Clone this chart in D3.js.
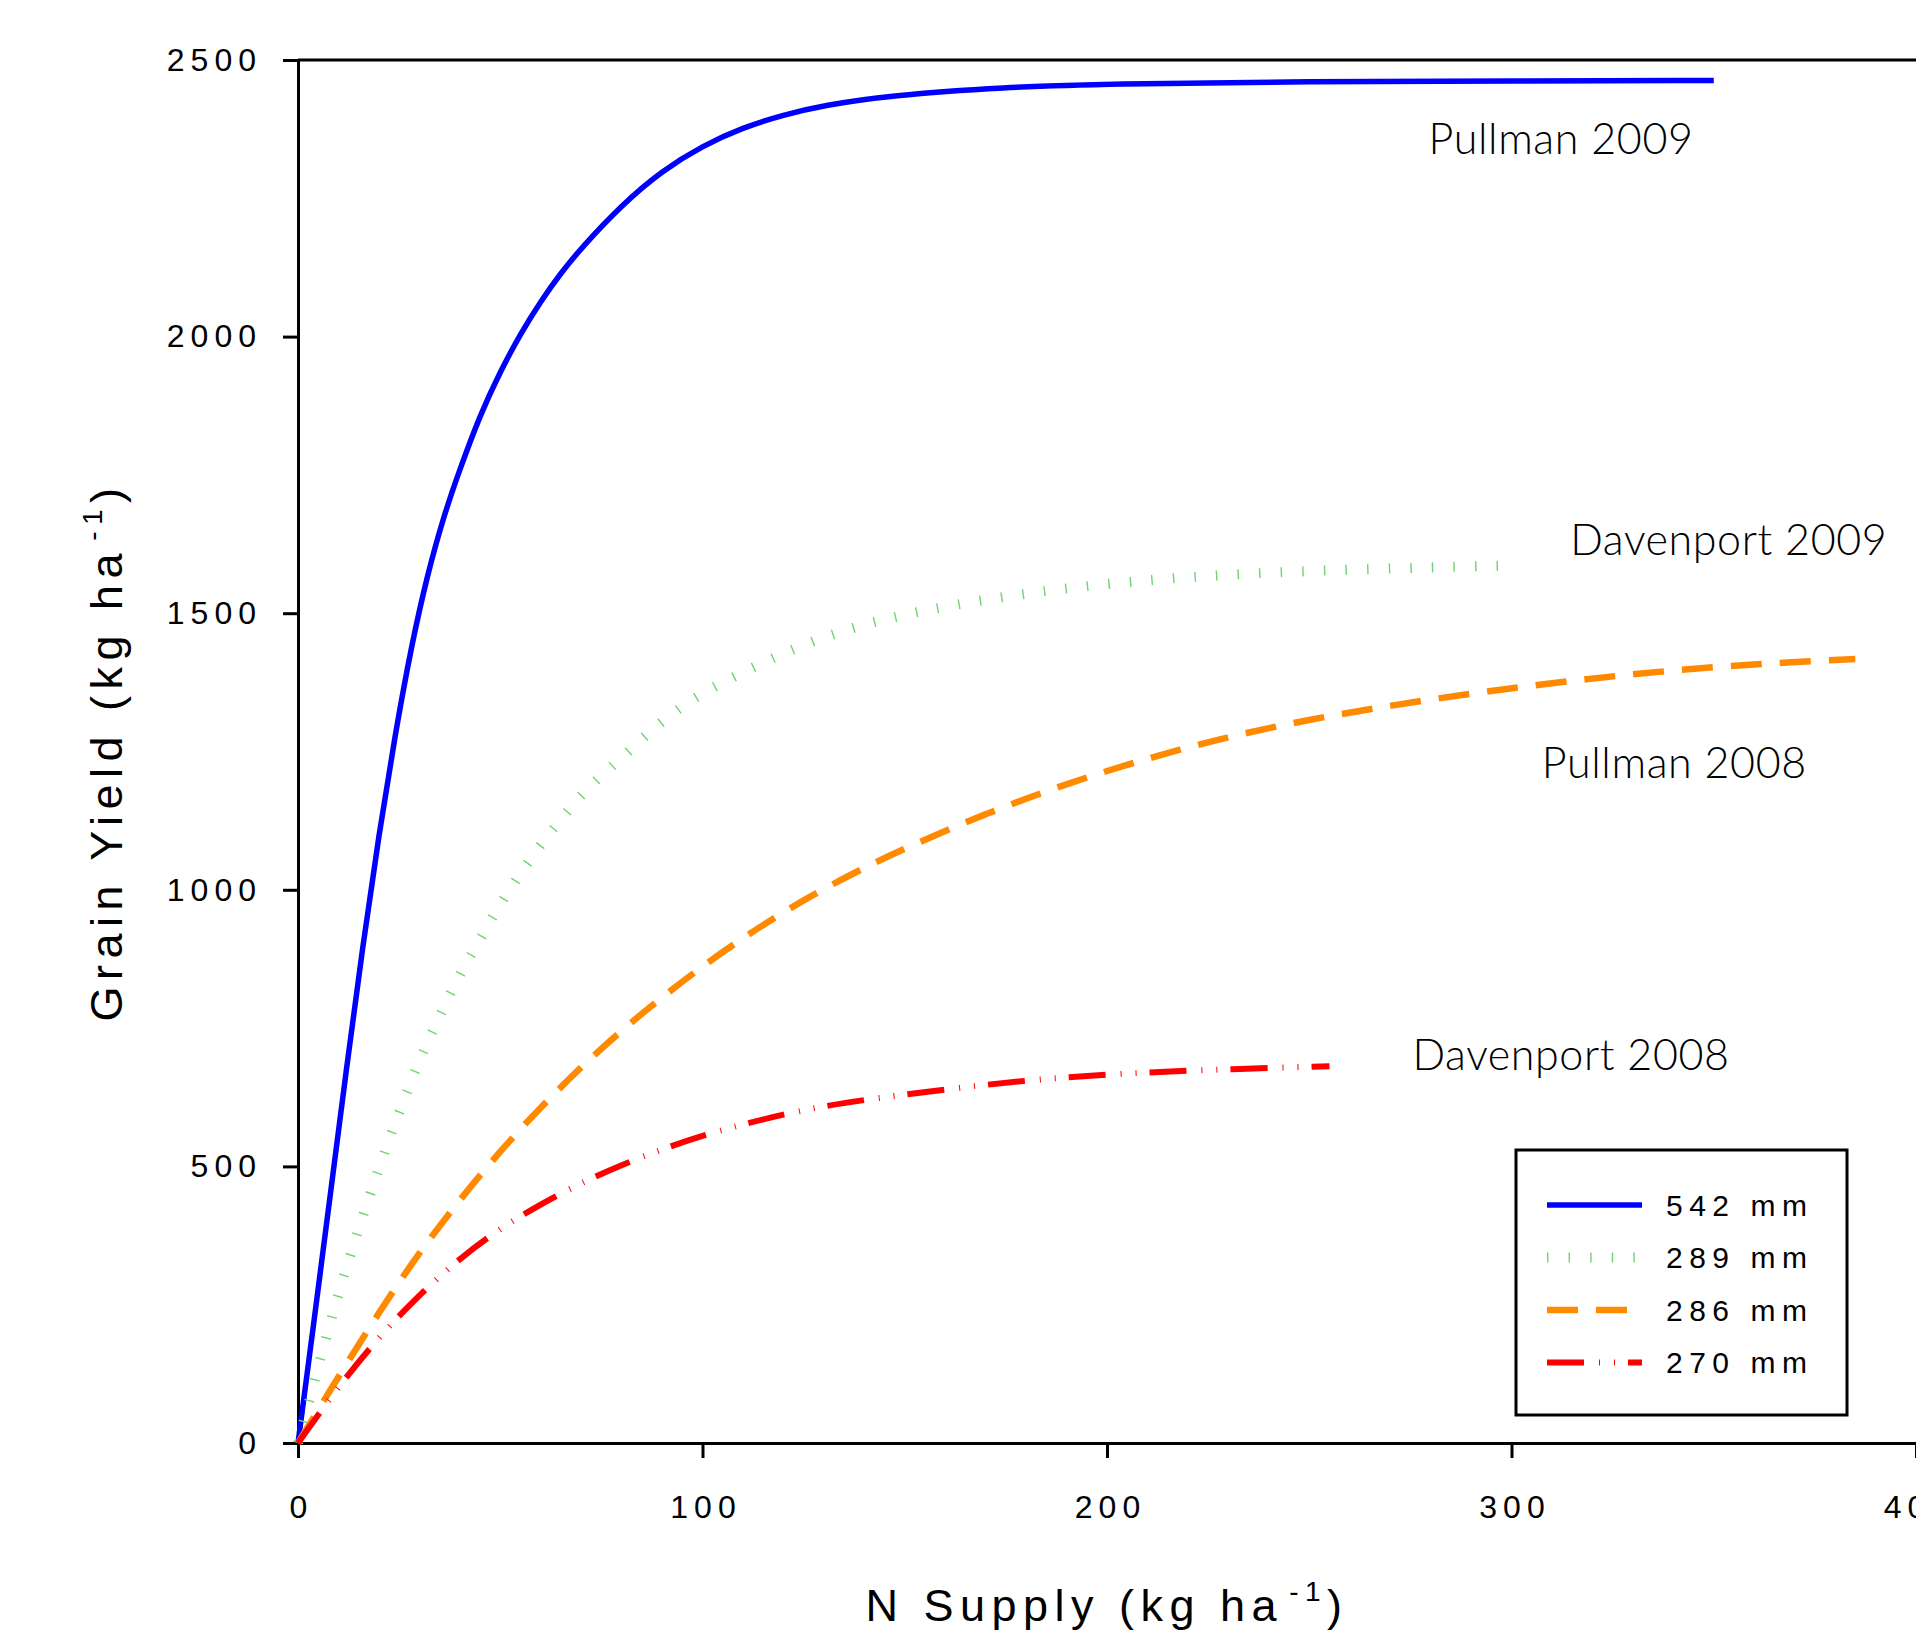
<!DOCTYPE html>
<html>
<head>
<meta charset="utf-8">
<script src="https://cdn.jsdelivr.net/npm/d3@7"></script>
<style>
  body { margin: 0; background: #fff; }
  svg { display: block; }
  .axis path, .axis line { stroke: #000; stroke-width: 3px; }
  .axis text { font-family: "Liberation Sans", Arial, sans-serif; font-size: 32px; letter-spacing: 6px; fill: #000; }
  .title { font-family: "Liberation Sans", Arial, sans-serif; font-size: 45px; letter-spacing: 6.5px; fill: #000; }
  .site-label { font-family: Lato, "DejaVu Sans", sans-serif; font-size: 43px; font-weight: 300; letter-spacing: 0.6px; fill: #000; }
  .legend text { font-family: "Liberation Sans", Arial, sans-serif; font-size: 30px; letter-spacing: 6.5px; fill: #000; }
</style>
</head>
<body>
<div id="chart-area"></div>
<script>
// N supply (kg/ha) and grain yield (kg/ha)
const pullman09N = [0, 4, 8, 12, 16, 20, 24, 28, 32, 36, 40, 45, 50, 55, 60, 65, 70, 80, 90, 100, 110, 120, 130, 146, 175, 200, 250, 300, 350]
const pullman09Y = [0, 222, 450, 678, 898, 1100, 1280, 1440, 1570, 1675, 1760, 1858, 1937, 2005, 2064, 2115, 2160, 2238, 2300, 2345, 2378, 2401, 2418, 2436, 2451, 2457, 2461, 2462, 2463]

const davenport09N = [0, 5, 10, 15, 20, 25, 30, 35, 40, 45, 50, 55, 60, 66, 72, 80, 90, 100, 110, 120, 130, 146, 178, 211, 243, 275, 298]
const davenport09Y = [0, 138, 272, 388, 498, 598, 693, 772, 848, 910, 975, 1030, 1082, 1137, 1188, 1238, 1307, 1357, 1393, 1428, 1457, 1494, 1536, 1562, 1575, 1582, 1586]

const pullman08N = [0, 10, 20, 30, 40, 50, 60, 70, 80, 90, 100, 110, 120, 130, 140, 150, 170, 190, 210, 230, 250, 270, 290, 310, 330, 350, 370, 385]
const pullman08Y = [0, 120, 236, 345, 440, 528, 607, 680, 746, 806, 862, 913, 960, 1002, 1040, 1075, 1138, 1192, 1238, 1277, 1308, 1333, 1355, 1374, 1390, 1403, 1412, 1417]

const davenport08N = [0, 10, 20, 30, 40, 50, 60, 70, 80, 90, 100, 110, 120, 130, 140, 150, 170, 190, 210, 230, 255]
const davenport08Y = [0, 102, 192, 268, 334, 388, 432, 470, 503, 531, 556, 576, 594, 609, 620, 630, 648, 662, 670, 676, 681]

const legendLabels = ["542 mm", "289 mm", "286 mm", "270 mm"]
const siteNames = ["Pullman 2009", "Davenport 2009", "Pullman 2008", "Davenport 2008"]
// where the site names sit, in data units
const siteLabelN = [279.5, 314.5, 307.5, 275.5]
const siteLabelY = [2330, 1605, 1202, 674]

const xTicks = [0, 100, 200, 300, 400]
const yTicks = [0, 500, 1000, 1500, 2000, 2500]

const MARGIN = { left: 298, right: 0, top: 60, bottom: 189 }
const SVG_WIDTH = 1916
const SVG_HEIGHT = 1632

const G_WIDTH = SVG_WIDTH - MARGIN.left - MARGIN.right
const G_HEIGHT = SVG_HEIGHT - MARGIN.top - MARGIN.bottom

const svg = d3.select("#chart-area").append("svg")
  .attr("width", SVG_WIDTH)
  .attr("height", SVG_HEIGHT)

const g = svg.append("g")
  .attr("transform", `translate(${MARGIN.left}, ${MARGIN.top})`)

const x = d3.scaleLinear()
  .domain([0, 400])
  .range([0, G_WIDTH])

const y = d3.scaleLinear()
  .domain([0, 2500])
  .range([G_HEIGHT, 0])

// styles per series (same order as the legend)
const styles = [
  { color: "#0000ff", width: 5.5, dash: null },
  { color: "#6fd36f", width: 10, dash: "1.4,20.2" },
  { color: "#ff8a00", width: 6.5, dash: "31,18" },
  { color: "#ff0000", width: 6, dash: "37,15,1,14,1,13" }
]

const series = [
  { n: pullman09N, yld: pullman09Y },
  { n: davenport09N, yld: davenport09Y },
  { n: pullman08N, yld: pullman08Y },
  { n: davenport08N, yld: davenport08Y }
].map((s, i) => ({
  label: legendLabels[i],
  style: styles[i],
  points: s.n.map((v, j) => [v, s.yld[j]])
}))

// axes
const xAxisCall = d3.axisBottom(x)
  .tickValues(xTicks)
  .tickFormat(d3.format("d"))
  .tickSize(15)
  .tickSizeOuter(0)
  .tickPadding(37)

g.append("g")
  .attr("class", "x axis")
  .attr("transform", `translate(0, ${G_HEIGHT})`)
  .call(xAxisCall)
  .selectAll("text").attr("dx", "3px")

const yAxisCall = d3.axisLeft(y)
  .tickValues(yTicks)
  .tickFormat(d3.format("d"))
  .tickSize(15)
  .tickSizeOuter(0)
  .tickPadding(21)

g.append("g")
  .attr("class", "y axis")
  .call(yAxisCall)

// top frame line
g.append("line")
  .attr("x1", x(0))
  .attr("x2", x(400))
  .attr("y1", y(2500))
  .attr("y2", y(2500))
  .attr("stroke", "#000")
  .attr("stroke-width", 3)

const line = d3.line()
  .x(d => x(d[0]))
  .y(d => y(d[1]))
  .curve(d3.curveBasis)

g.selectAll("path.curve").data(series)
  .enter().append("path")
  .attr("class", "curve")
  .attr("fill", "none")
  .attr("stroke", d => d.style.color)
  .attr("stroke-width", d => d.style.width)
  .attr("stroke-dasharray", d => d.style.dash)
  .attr("d", d => line(d.points))

// site names
g.selectAll("text.site-label").data(siteNames)
  .enter().append("text")
  .attr("class", "site-label")
  .attr("x", (d, i) => x(siteLabelN[i]))
  .attr("y", (d, i) => y(siteLabelY[i]))
  .text(d => d)

// axis titles
const xLabel = g.append("text")
  .attr("class", "title")
  .attr("x", G_WIDTH / 2)
  .attr("y", G_HEIGHT + 178)
  .attr("text-anchor", "middle")
xLabel.append("tspan").text("N Supply (kg ha")
xLabel.append("tspan").attr("font-size", "28px").attr("dx", 6).attr("dy", -20).text("-1")
xLabel.append("tspan").attr("dy", 20).text(")")

const yLabel = g.append("text")
  .attr("class", "title")
  .attr("transform", "rotate(-90)")
  .attr("x", -G_HEIGHT / 2)
  .attr("y", -176)
  .attr("text-anchor", "middle")
yLabel.append("tspan").text("Grain Yield (kg ha")
yLabel.append("tspan").attr("font-size", "28px").attr("dx", 6).attr("dy", -20).text("-1")
yLabel.append("tspan").attr("dy", 20).text(")")

// legend
const legend = g.append("g")
  .attr("class", "legend")
  .attr("transform", `translate(${G_WIDTH - 400}, ${G_HEIGHT - 293})`)

legend.append("rect")
  .attr("width", 331)
  .attr("height", 265)
  .attr("fill", "#fff")
  .attr("stroke", "#000")
  .attr("stroke-width", 3)

const rows = legend.selectAll("g.row").data(series)
  .enter().append("g")
  .attr("class", "row")
  .attr("transform", (d, i) => `translate(0, ${55 + i * 52.5})`)

rows.append("line")
  .attr("x1", 31)
  .attr("x2", 126)
  .attr("stroke", d => d.style.color)
  .attr("stroke-width", d => d.style.width)
  .attr("stroke-dasharray", d => d.style.dash)

rows.append("text")
  .attr("x", 150)
  .attr("dy", "0.36em")
  .text(d => d.label)
</script>
</body>
</html>
